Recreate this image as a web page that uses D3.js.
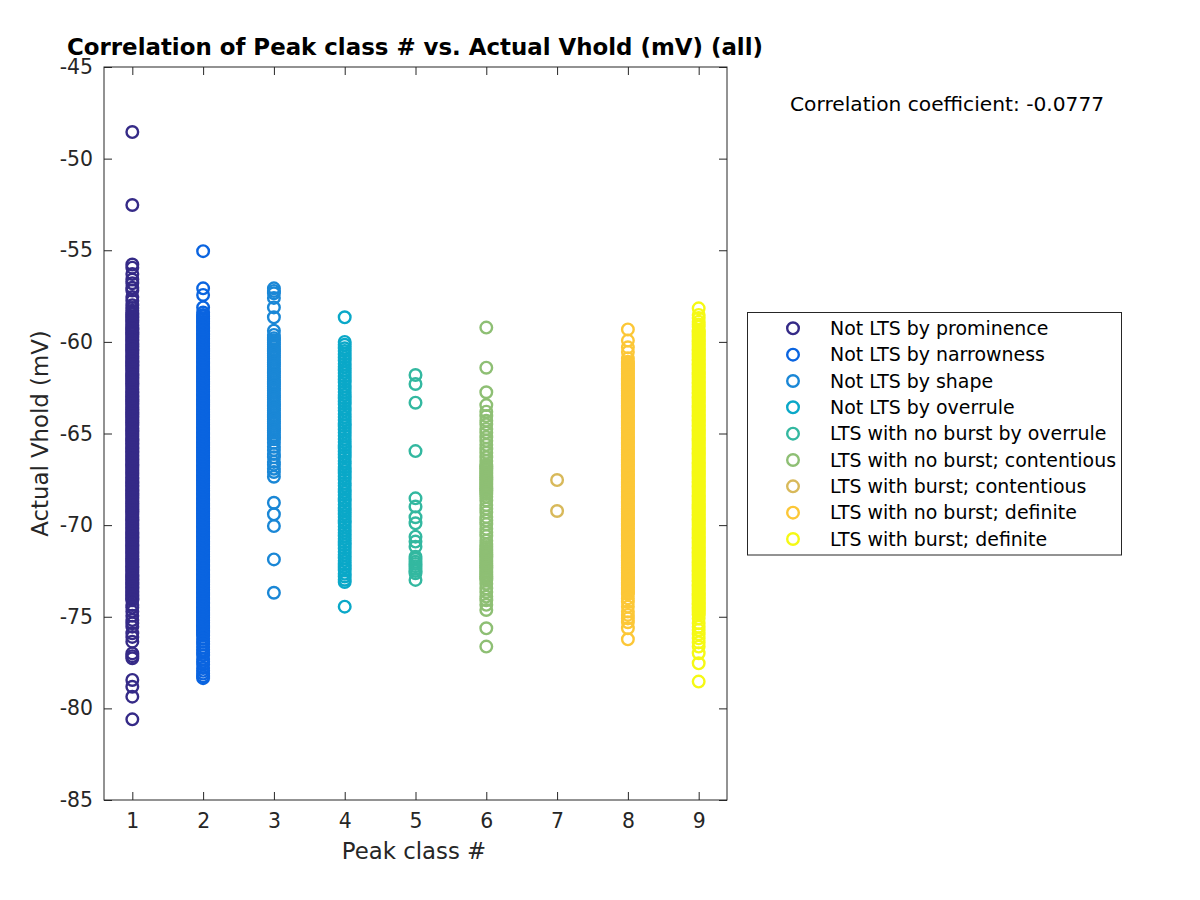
<!DOCTYPE html>
<html><head><meta charset="utf-8">
<script src="https://cdn.jsdelivr.net/npm/d3@7/dist/d3.min.js"></script>
<style>body{margin:0;background:#fff;} svg{display:block;font-family:"DejaVu Sans",sans-serif;}</style>
</head><body>
<svg id="chart" width="1200" height="900"></svg>
<script>
const classLabels = ["Not LTS by prominence","Not LTS by narrowness","Not LTS by shape","Not LTS by overrule","LTS with no burst by overrule","LTS with no burst; contentious","LTS with burst; contentious","LTS with no burst; definite","LTS with burst; definite"];
const classColors = ["#352a87","#0a64e0","#1a87d6","#0aa8c8","#33b8a0","#8ebf74","#d8b95a","#fcc737","#f5f914"];
const xTicks = [1,2,3,4,5,6,7,8,9];
const yTicks = [-85,-80,-75,-70,-65,-60,-55,-50,-45];
const correlationText = "Correlation coefficient: -0.0777";

const vholdClass1 = [-48.55,-52.53,-55.78,-55.95,-56.3,-56.6,-56.8,-57.05,-57.2,-57.55,-57.75,-58.0,-58.15,-58.3,
-58.42,-58.5,-58.61,-58.68,-58.79,-58.86,-58.95,-59.07,-59.13,-59.24,-59.31,-59.42,-59.5,-59.58,-59.69,-59.77,-59.88,-59.94,-60.05,-60.12,-60.23,-60.3,-60.41,-60.47,-60.58,-60.66,-60.77,-60.85,-60.93,-61.04,-61.11,-61.22,-61.29,-61.38,-61.47,-61.56,-61.64,-61.75,-61.82,-61.93,-62.0,-62.1,-62.18,-62.27,-62.36,-62.44,-62.55,-62.62,-62.73,-62.8,-62.9,-62.98,-63.07,-63.16,-63.24,-63.35,-63.42,-63.52,-63.6,-63.69,-63.78,-63.87,-63.95,-64.06,-64.13,-64.23,-64.31,-64.4,-64.49,-64.57,-64.68,-64.75,-64.85,-64.93,-65.02,-65.11,-65.19,-65.3,-65.37,-65.47,-65.55,-65.64,-65.73,-65.81,-65.91,-65.99,-66.08,-66.17,-66.25,-66.36,-66.43,-66.53,-66.61,-66.7,-66.79,-66.87,-66.97,-67.05,-67.14,-67.23,-67.31,-67.42,-67.49,-67.59,-67.67,-67.76,-67.85,-67.93,-68.03,-68.11,-68.2,-68.29,-68.37,-68.48,-68.55,-68.65,-68.73,-68.82,-68.91,-68.99,-69.09,-69.17,-69.26,-69.35,-69.43,-69.54,-69.61,-69.71,-69.79,-69.88,-69.97,-70.05,-70.15,-70.23,-70.32,-70.41,-70.49,-70.6,-70.67,-70.77,-70.85,-70.94,-71.03,-71.11,-71.21,-71.29,-71.38,-71.47,-71.55,-71.66,-71.73,-71.83,-71.91,-72.0,-72.09,-72.17,-72.27,-72.35,-72.44,-72.53,-72.61,-72.72,-72.79,-72.89,-72.97,-73.06,-73.15,-73.23,-73.33,-73.41,-73.5,-73.59,-73.67,-73.78,-73.85,-73.95,-74.03,-74.1,
-74.36,-74.5,-74.72,-74.95,-75.18,-75.36,-75.54,-75.9,-76.1,-76.36,-77.0,-77.15,-77.27,-78.45,-78.82,-79.36,-80.6];

const vholdClass2 = [-55.05,-57.08,-57.44,-58.12,-58.4,
-58.53,-58.61,-58.72,-58.8,-58.9,-58.99,-59.08,-59.18,-59.26,-59.37,-59.44,-59.55,-59.63,-59.72,-59.82,-59.9,-60.01,-60.09,-60.19,-60.27,-60.36,-60.46,-60.54,-60.64,-60.72,-60.81,-60.91,-60.99,-61.09,-61.17,-61.26,-61.36,-61.44,-61.54,-61.62,-61.71,-61.81,-61.89,-61.99,-62.07,-62.16,-62.26,-62.34,-62.44,-62.52,-62.61,-62.71,-62.79,-62.89,-62.97,-63.06,-63.16,-63.24,-63.34,-63.42,-63.51,-63.61,-63.69,-63.79,-63.87,-63.96,-64.06,-64.14,-64.24,-64.32,-64.41,-64.51,-64.59,-64.69,-64.77,-64.86,-64.96,-65.04,-65.14,-65.22,-65.31,-65.41,-65.49,-65.59,-65.67,-65.76,-65.86,-65.94,-66.04,-66.12,-66.21,-66.31,-66.39,-66.49,-66.57,-66.66,-66.76,-66.84,-66.94,-67.02,-67.11,-67.21,-67.29,-67.39,-67.47,-67.56,-67.66,-67.74,-67.84,-67.92,-68.01,-68.11,-68.19,-68.29,-68.37,-68.46,-68.56,-68.64,-68.74,-68.82,-68.91,-69.01,-69.09,-69.19,-69.27,-69.36,-69.46,-69.54,-69.64,-69.72,-69.81,-69.91,-69.99,-70.09,-70.17,-70.26,-70.36,-70.44,-70.54,-70.62,-70.71,-70.81,-70.89,-70.99,-71.07,-71.16,-71.26,-71.34,-71.44,-71.52,-71.61,-71.71,-71.79,-71.89,-71.97,-72.06,-72.16,-72.24,-72.34,-72.42,-72.51,-72.61,-72.69,-72.79,-72.87,-72.96,-73.06,-73.14,-73.24,-73.32,-73.41,-73.51,-73.59,-73.69,-73.77,-73.86,-73.96,-74.04,-74.14,-74.22,-74.31,-74.41,-74.49,-74.59,-74.67,-74.76,-74.86,-74.94,-75.04,-75.12,-75.21,-75.31,-75.39,-75.49,-75.57,-75.66,-75.76,-75.84,-75.94,-76.02,
-76.2,-76.35,-76.5,-76.65,-76.8,-76.95,-77.1,-77.3,-77.45,-77.6,-77.8,-77.95,-78.1,-78.25,-78.35];

const vholdClass3 = [-57.08,-57.22,-57.35,-57.6,-58.12,-58.66,-59.39,-59.62,
-59.8,-59.91,-60.04,-60.15,-60.27,-60.4,-60.51,-60.63,-60.76,-60.87,-60.99,-61.12,-61.23,-61.35,-61.48,-61.59,-61.71,-61.84,-61.95,-62.07,-62.2,-62.31,-62.43,-62.56,-62.67,-62.79,-62.92,-63.03,-63.15,-63.28,-63.39,-63.51,-63.64,-63.75,-63.87,-64.0,-64.11,-64.23,-64.36,-64.47,-64.59,-64.72,-64.83,-64.95,-65.08,-65.19,-65.31,
-65.5,-65.72,-65.9,-66.12,-66.3,-66.55,-66.7,-66.92,-67.1,-67.36,
-68.78,-69.41,-70.05,-71.87,-73.69];

const vholdClass4 = [-58.66,
-60.0,-60.16,-60.35,-60.5,-60.68,-60.85,-61.02,-61.2,-61.36,-61.55,-61.7,-61.88,-62.05,-62.21,-62.4,-62.56,-62.73,-62.9,-63.07,-63.25,-63.41,-63.6,-63.75,-63.93,-64.1,-64.26,-64.45,-64.6,-64.78,-64.95,-65.12,-65.3,-65.46,-65.65,-65.8,-65.98,-66.15,-66.31,-66.5,-66.65,-66.83,-67.0,-67.17,-67.35,-67.51,-67.7,-67.85,-68.03,-68.2,-68.36,-68.55,-68.7,-68.88,-69.05,-69.22,-69.4,-69.56,-69.75,-69.9,-70.08,-70.25,-70.41,-70.6,-70.75,-70.93,-71.1,-71.27,-71.45,-71.61,-71.8,-71.95,-72.13,-72.3,-72.46,-72.65,-72.8,-72.98,-73.1,
-74.45];

const vholdClass5 = [-61.81,-62.3,-63.32,-65.96,-68.54,-68.99,-69.57,-69.9,-70.63,-70.9,-71.18,-71.72,-71.85,-72.0,-72.12,-72.25,-72.38,-72.5,-72.63,-72.99];

const vholdClass6 = [-59.22,-61.41,-62.75,-63.45,-63.81,-64.05,-64.3,-64.5,-64.75,-64.95,-65.2,-65.4,-65.62,-65.85,-66.05,-66.3,-66.5,-66.7,-66.8,-66.9,-67.0,-67.1,-67.2,-67.3,-67.4,-67.5,-67.6,-67.7,-67.8,-67.9,-68.0,-68.1,-68.2,-68.3,-68.45,-68.65,-68.9,-69.1,-69.3,-69.55,-69.75,-69.95,-70.2,-70.4,-70.6,-70.85,-71.05,-71.2,-71.3,-71.4,-71.5,-71.6,-71.7,-71.8,-71.9,-72.0,-72.1,-72.2,-72.3,-72.4,-72.5,-72.6,-72.7,-72.8,-72.9,-73.0,-73.2,-73.45,-73.65,-73.9,-74.1,-74.35,-74.63,-75.63,-76.63];

const vholdClass7 = [-67.54,-69.23];

const vholdClass8 = [-59.32,-59.93,-60.3,-60.55,-60.9,
-61.08,-61.17,-61.27,-61.35,-61.45,-61.54,-61.63,-61.73,-61.81,-61.91,-62.0,-62.09,-62.19,-62.27,-62.37,-62.46,-62.55,-62.65,-62.73,-62.83,-62.92,-63.01,-63.11,-63.19,-63.29,-63.38,-63.47,-63.57,-63.65,-63.75,-63.84,-63.93,-64.03,-64.11,-64.21,-64.3,-64.39,-64.49,-64.57,-64.67,-64.76,-64.85,-64.95,-65.03,-65.13,-65.22,-65.31,-65.41,-65.49,-65.59,-65.68,-65.77,-65.87,-65.95,-66.05,-66.14,-66.23,-66.33,-66.41,-66.51,-66.6,-66.69,-66.79,-66.87,-66.97,-67.06,-67.15,-67.25,-67.33,-67.43,-67.52,-67.61,-67.71,-67.79,-67.89,-67.98,-68.07,-68.17,-68.25,-68.35,-68.44,-68.53,-68.63,-68.71,-68.81,-68.9,-68.99,-69.09,-69.17,-69.27,-69.36,-69.45,-69.55,-69.63,-69.73,-69.82,-69.91,-70.01,-70.09,-70.19,-70.28,-70.37,-70.47,-70.55,-70.65,-70.74,-70.83,-70.93,-71.01,-71.11,-71.2,-71.29,-71.39,-71.47,-71.57,-71.66,-71.75,-71.85,-71.93,-72.03,-72.12,-72.21,-72.31,-72.39,-72.49,-72.58,-72.67,-72.77,-72.85,-72.95,-73.04,-73.13,-73.23,-73.31,-73.41,-73.5,-73.59,-73.69,-73.77,
-74.0,-74.2,-74.45,-74.72,-74.9,-75.09,-75.3,-75.63,-76.23];

const vholdClass9 = [-58.17,-58.53,-58.7,-58.9,-59.05,-59.17,
-59.35,-59.43,-59.53,-59.61,-59.71,-59.79,-59.89,-59.97,-60.07,-60.15,-60.25,-60.33,-60.43,-60.51,-60.61,-60.69,-60.79,-60.87,-60.97,-61.05,-61.15,-61.23,-61.33,-61.41,-61.51,-61.59,-61.69,-61.77,-61.87,-61.95,-62.05,-62.13,-62.23,-62.31,-62.41,-62.49,-62.59,-62.67,-62.77,-62.85,-62.95,-63.03,-63.13,-63.21,-63.31,-63.39,-63.49,-63.57,-63.67,-63.75,-63.85,-63.93,-64.03,-64.11,-64.21,-64.29,-64.39,-64.47,-64.57,-64.65,-64.75,-64.83,-64.93,-65.01,-65.11,-65.19,-65.29,-65.37,-65.47,-65.55,-65.65,-65.73,-65.83,-65.91,-66.01,-66.09,-66.19,-66.27,-66.37,-66.45,-66.55,-66.63,-66.73,-66.81,-66.91,-66.99,-67.09,-67.17,-67.27,-67.35,-67.45,-67.53,-67.63,-67.71,-67.81,-67.89,-67.99,-68.07,-68.17,-68.25,-68.35,-68.43,-68.53,-68.61,-68.71,-68.79,-68.89,-68.97,-69.07,-69.15,-69.25,-69.33,-69.43,-69.51,-69.61,-69.69,-69.79,-69.87,-69.97,-70.05,-70.15,-70.23,-70.33,-70.41,-70.51,-70.59,-70.69,-70.77,-70.87,-70.95,-71.05,-71.13,-71.23,-71.31,-71.41,-71.49,-71.59,-71.67,-71.77,-71.85,-71.95,-72.03,-72.13,-72.21,-72.31,-72.39,-72.49,-72.57,-72.67,-72.75,-72.85,-72.93,-73.03,-73.11,-73.21,-73.29,-73.39,-73.47,-73.57,-73.65,-73.75,-73.83,-73.93,-74.01,-74.11,-74.19,-74.29,-74.37,-74.47,-74.55,-74.65,-74.73,-74.83,-74.9,
-75.1,-75.36,-75.55,-75.72,-75.95,-76.18,-76.4,-76.63,-76.99,-77.54,-78.54];

const classValues = [vholdClass1,vholdClass2,vholdClass3,vholdClass4,vholdClass5,vholdClass6,vholdClass7,vholdClass8,vholdClass9];

const svg = d3.select("#chart");
svg.append("rect").attr("width",1200).attr("height",900).attr("fill","#fff");

const L = 104, R = 727, T = 67, B = 800;
const x = d3.scaleLinear().domain([0.6, 9.4]).range([L, R]);
const y = d3.scaleLinear().domain([-85, -45]).range([B, T]);
const axisColor = "#262626";
const tickLen = 8;
const markerR = 5.8, markerW = 2.4;
const fmt = d => String(d);

// points
const pts = svg.append("g");
classValues.forEach((vals, i) => {
  pts.append("g").selectAll("circle").data(vals).join("circle")
    .attr("cx", x(i + 1)).attr("cy", d => y(d)).attr("r", markerR)
    .attr("fill", "none").attr("stroke", classColors[i]).attr("stroke-width", markerW);
});

// axes
const ax = svg.append("g");
ax.append("g").attr("transform", `translate(0,${B})`)
  .call(d3.axisBottom(x).tickValues(xTicks).tickSize(-tickLen).tickPadding(14).tickFormat(fmt))
  .call(g => { g.select(".domain").remove(); g.selectAll("line").attr("stroke", axisColor);
    g.selectAll("text").attr("fill", axisColor).attr("font-size", 20.4).attr("font-family", "DejaVu Sans"); });
ax.append("g").attr("transform", `translate(0,${T})`)
  .call(d3.axisTop(x).tickValues(xTicks).tickSize(-tickLen).tickFormat(""))
  .call(g => { g.select(".domain").remove(); g.selectAll("line").attr("stroke", axisColor); });
ax.append("g").attr("transform", `translate(${L},0)`)
  .call(d3.axisLeft(y).tickValues(yTicks).tickSize(-tickLen).tickPadding(11).tickFormat(fmt))
  .call(g => { g.select(".domain").remove(); g.selectAll("line").attr("stroke", axisColor);
    g.selectAll("text").attr("fill", axisColor).attr("font-size", 20.4).attr("font-family", "DejaVu Sans"); });
ax.append("g").attr("transform", `translate(${R},0)`)
  .call(d3.axisRight(y).tickValues(yTicks).tickSize(-tickLen).tickFormat(""))
  .call(g => { g.select(".domain").remove(); g.selectAll("line").attr("stroke", axisColor); });
ax.append("rect").attr("x", L).attr("y", T).attr("width", R - L).attr("height", B - T)
  .attr("fill", "none").attr("stroke", axisColor).attr("stroke-width", 1);

// labels
svg.append("text").attr("x", 414).attr("y", 859).attr("text-anchor", "middle")
  .attr("font-size", 22.8).attr("fill", axisColor).text("Peak class #");
svg.append("text").attr("transform", `translate(48,${(T + B) / 2}) rotate(-90)`).attr("text-anchor", "middle")
  .attr("font-size", 22.8).attr("fill", axisColor).text("Actual Vhold (mV)");
svg.append("text").attr("x", 415).attr("y", 55).attr("text-anchor", "middle")
  .attr("font-size", 22.9).attr("font-weight", "bold").attr("fill", "#000")
  .text("Correlation of Peak class # vs. Actual Vhold (mV) (all)");
svg.append("text").attr("x", 790).attr("y", 111).attr("font-size", 20.2).attr("fill", "#000").text(correlationText);

// legend
const lg = svg.append("g");
lg.append("rect").attr("x", 747.5).attr("y", 312.5).attr("width", 374).attr("height", 242.5)
  .attr("fill", "#fff").attr("stroke", axisColor).attr("stroke-width", 1);
const rowY = d3.scaleLinear().domain([0, 8]).range([328.3, 539]);
classLabels.forEach((lab, i) => {
  lg.append("circle").attr("cx", 793).attr("cy", rowY(i)).attr("r", markerR)
    .attr("fill", "none").attr("stroke", classColors[i]).attr("stroke-width", markerW);
  lg.append("text").attr("x", 830).attr("y", rowY(i)).attr("dy", "0.36em")
    .attr("font-size", 18.95).attr("fill", "#000").text(lab);
});
</script>
</body></html>
